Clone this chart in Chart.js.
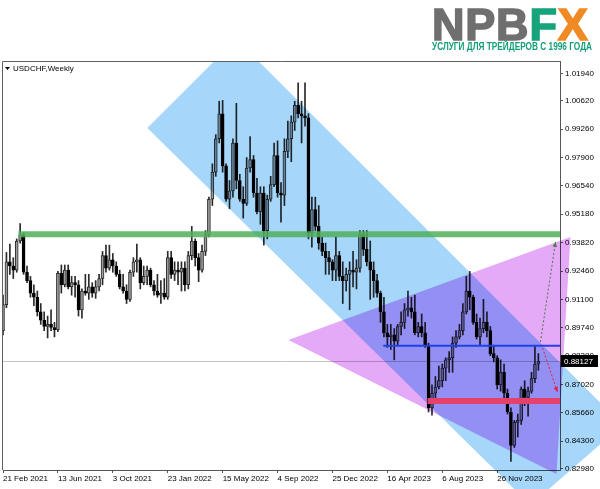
<!DOCTYPE html>
<html><head><meta charset="utf-8">
<script src="https://cdn.jsdelivr.net/npm/chart.js@4.4.1/dist/chart.umd.min.js"></script>
<style>
html,body{margin:0;padding:0;background:#fff;}
#wrap{position:relative;width:600px;height:489px;overflow:hidden;background:#fff;}
canvas{position:absolute;left:0;top:0;}
#logo{position:absolute;left:432px;top:2px;font-family:'Liberation Sans',Arial,sans-serif;font-weight:bold;font-size:45px;line-height:45px;letter-spacing:0.8px;white-space:nowrap;}
#logo .g{color:#6f6f6f;-webkit-text-stroke:1.6px #6f6f6f}#logo .f{color:#17a37c;-webkit-text-stroke:1.6px #17a37c}#logo .x{color:#f08a24;-webkit-text-stroke:1.6px #f08a24}
#sub{position:absolute;left:432px;top:42px;font-family:'Liberation Sans',Arial,sans-serif;font-weight:bold;font-size:10px;line-height:10px;color:#129e78;white-space:nowrap;transform-origin:0 0;}
</style></head><body>
<div id="wrap">
<canvas id="c" width="600" height="489"></canvas>
<div id="logo"><span class="g">NPB</span><span class="f">F</span><span class="x">X</span></div>
<div id="sub">УСЛУГИ ДЛЯ ТРЕЙДЕРОВ С 1996 ГОДА</div>
</div>
<script>
// ---- data ----
const symbolTitle = 'USDCHF,Weekly';
const xTickIndex = [0,16,32,48,64,80,96,112,128,144];
const xTickLabels = ['21 Feb 2021','13 Jun 2021','3 Oct 2021','23 Jan 2022','15 May 2022','4 Sep 2022','25 Dec 2022','16 Apr 2023','6 Aug 2023','26 Nov 2023'];
const yTickValues = [1.0194,1.0062,0.9926,0.9790,0.9654,0.9518,0.9382,0.9246,0.9110,0.8974,0.8838,0.8702,0.8566,0.8430,0.8298];
const currentPrice = 0.88127;

const opens = [
.8960,.9085,.9290,.9270,.9250,.9390,.9420,.9240,.9200,.9140,
.9120,.9050,.9010,.8980,.8990,.8975,.8965,.9235,.9180,.9250,
.9170,.9190,.9180,.9060,.9150,.9140,.9170,.9140,.9170,.9210,
.9320,.9260,.9300,.9270,.9230,.9170,.9150,.9110,.9240,.9290,
.9300,.9190,.9220,.9250,.9180,.9150,.9130,.9140,.9120,.9310,
.9230,.9250,.9240,.9260,.9180,.9320,.9390,.9310,.9250,.9340,
.9420,.9590,.9720,.9880,1.0000,.9750,.9590,.9630,.9860,.9680,
.9590,.9570,.9740,.9780,.9620,.9530,.9620,.9440,.9590,.9660,
.9800,.9620,.9610,.9820,.9880,.9960,1.0040,1.0000,.9990,.9980,
.9430,.9540,.9460,.9380,.9340,.9310,.9290,.9250,.9320,.9220,
.9200,.9230,.9250,.9240,.9260,.9420,.9350,.9290,.9250,.9200,
.9140,.9050,.8950,.8930,.8940,.8910,.8980,.9000,.9060,.9070,
.9050,.8950,.8980,.8950,.8890,.8590,.8660,.8690,.8720,.8780,
.8820,.8830,.8900,.8930,.8960,.9050,.9150,.9120,.9000,.8930,
.8970,.9000,.8960,.8850,.8830,.8700,.8760,.8660,.8570,.8410,
.8520,.8530,.8680,.8640,.8670,.8730,.8800];
const highs = [
.9130,.9335,.9375,.9310,.9400,.9473,.9430,.9270,.9220,.9180,
.9150,.9090,.9050,.9030,.9060,.9000,.9245,.9275,.9275,.9275,
.9220,.9220,.9200,.9160,.9230,.9230,.9190,.9200,.9230,.9340,
.9370,.9370,.9330,.9290,.9250,.9230,.9180,.9250,.9310,.9375,
.9310,.9270,.9270,.9260,.9200,.9230,.9200,.9210,.9340,.9340,
.9290,.9290,.9290,.9290,.9340,.9460,.9400,.9330,.9370,.9440,
.9600,.9760,.9900,1.0060,1.0064,.9760,.9680,.9880,1.0050,.9710,
.9650,.9790,.9890,.9800,.9690,.9650,.9650,.9610,.9700,.9860,
.9870,.9670,.9880,.9965,.9990,1.0060,1.0148,1.0060,1.0148,1.0000,
.9600,.9600,.9560,.9410,.9380,.9340,.9300,.9410,.9340,.9290,
.9260,.9290,.9340,.9300,.9440,.9440,.9440,.9390,.9290,.9230,
.9150,.9120,.8990,.8990,.8970,.8990,.9050,.9090,.9150,.9120,
.9130,.9000,.9040,.9000,.8900,.8700,.8740,.8790,.8800,.8830,
.8860,.8930,.8960,.8990,.9090,.9220,.9244,.9130,.9040,.9020,
.9110,.9050,.8980,.8890,.8840,.8820,.8800,.8680,.8590,.8530,
.8560,.8690,.8720,.8690,.8760,.8890,.8850];
const lows = [
.8940,.9070,.9230,.9210,.9240,.9380,.9230,.9190,.9120,.9080,
.9030,.8990,.8960,.8925,.8960,.8930,.8955,.9140,.9170,.9160,
.9130,.9120,.9030,.9020,.9130,.9110,.9120,.9115,.9150,.9180,
.9240,.9250,.9240,.9220,.9160,.9140,.9090,.9100,.9220,.9240,
.9160,.9180,.9180,.9170,.9130,.9120,.9090,.9110,.9110,.9210,
.9200,.9180,.9150,.9150,.9160,.9300,.9270,.9195,.9240,.9320,
.9410,.9560,.9700,.9860,.9720,.9580,.9545,.9600,.9640,.9580,
.9500,.9560,.9720,.9600,.9520,.9470,.9370,.9400,.9580,.9650,
.9600,.9480,.9560,.9790,.9770,.9920,.9980,.9860,.9940,.9400,
.9360,.9440,.9350,.9320,.9230,.9230,.9200,.9200,.9200,.9090,
.9150,.9060,.9170,.9160,.9240,.9320,.9270,.9110,.9120,.9120,
.9000,.8930,.8880,.8870,.8820,.8890,.8940,.8970,.9030,.9020,
.8940,.8930,.8930,.8880,.8570,.8555,.8610,.8680,.8690,.8720,
.8760,.8760,.8880,.8920,.8940,.9040,.9060,.8990,.8920,.8890,
.8950,.8930,.8840,.8810,.8680,.8670,.8620,.8560,.8333,.8400,
.8450,.8510,.8600,.8550,.8660,.8710,.8770];
const closes = [
.9085,.9290,.9270,.9250,.9390,.9420,.9240,.9200,.9140,.9120,
.9050,.9010,.8980,.8990,.8975,.8965,.9235,.9180,.9250,.9170,
.9190,.9180,.9060,.9150,.9140,.9170,.9140,.9170,.9210,.9320,
.9260,.9300,.9270,.9230,.9170,.9150,.9110,.9240,.9290,.9300,
.9190,.9220,.9250,.9180,.9150,.9130,.9140,.9120,.9310,.9230,
.9250,.9240,.9260,.9180,.9320,.9390,.9310,.9250,.9340,.9420,
.9590,.9720,.9880,1.0000,.9750,.9590,.9630,.9860,.9680,.9590,
.9570,.9740,.9780,.9620,.9530,.9620,.9440,.9590,.9660,.9800,
.9620,.9610,.9820,.9880,.9960,1.0040,1.0000,.9990,.9980,.9430,
.9540,.9460,.9380,.9340,.9310,.9290,.9250,.9320,.9220,.9200,
.9230,.9250,.9240,.9260,.9420,.9350,.9290,.9250,.9200,.9140,
.9050,.8950,.8930,.8940,.8910,.8980,.9000,.9060,.9070,.9050,
.8950,.8980,.8950,.8890,.8590,.8660,.8690,.8720,.8780,.8820,
.8830,.8900,.8930,.8960,.9050,.9150,.9120,.9000,.8930,.8970,
.9000,.8960,.8850,.8830,.8700,.8760,.8660,.8570,.8410,.8520,
.8530,.8680,.8640,.8670,.8730,.8800,.8813];

// analyst drawings, in (bar index, price)
const channelX = [42.06, 68.0, 180.5, 153.7];
const channelP = [0.99317, 1.03585, 0.85076, 0.8124];
const triangleX = [83.15, 165.35, 161.27];
const triangleP = [0.89152, 0.94091, 0.82727];
const greenLevel = {from: 4.5, price: 0.94225};
const blueLevel = {from: 110.8, price: 0.88879};
const redLevel = {from: 123.7, price: 0.86227};
const upArrowX = [156.6, 161.0], upArrowP = [0.89056, 0.93851];
const downArrowX = [157.2, 161.55], downArrowP = [0.88768, 0.86659];

// ---- build ----
const idx = opens.map((_, i) => i);
const bodies = idx.map(i => ({x: i, y: [Math.min(opens[i], closes[i]), Math.max(opens[i], closes[i])]}));
const wicks = idx.map(i => ({x: i, y: [lows[i], highs[i]]}));
const isBull = i => closes[i] >= opens[i];

function arrow(ctx, x0, y0, x1, y1, color) {
  ctx.save();
  ctx.strokeStyle = color; ctx.lineWidth = 1; ctx.setLineDash([2, 2]);
  ctx.beginPath(); ctx.moveTo(x0, y0); ctx.lineTo(x1, y1); ctx.stroke();
  ctx.setLineDash([]);
  const a = Math.atan2(y1 - y0, x1 - x0), L = 5, W = 2.2;
  ctx.fillStyle = color; ctx.beginPath(); ctx.moveTo(x1, y1);
  ctx.lineTo(x1 - L * Math.cos(a) + W * Math.sin(a), y1 - L * Math.sin(a) - W * Math.cos(a));
  ctx.lineTo(x1 - L * Math.cos(a) - W * Math.sin(a), y1 - L * Math.sin(a) + W * Math.cos(a));
  ctx.closePath(); ctx.fill();
  ctx.restore();
}

const overlay = {
  id: 'overlay',
  beforeDatasetsDraw(chart) {
    const {ctx, chartArea: a, scales: {y}} = chart;
    ctx.save();
    ctx.beginPath(); ctx.rect(a.left, a.top, a.right - a.left, a.bottom - a.top); ctx.clip();
    const py = Math.round(y.getPixelForValue(currentPrice)) + 0.5;
    ctx.strokeStyle = '#c4c4c4'; ctx.lineWidth = 1;
    ctx.beginPath(); ctx.moveTo(a.left, py); ctx.lineTo(a.right, py); ctx.stroke();
    ctx.restore();
  },
  afterDatasetsDraw(chart) {
    const {ctx, chartArea: a, scales: {x, y}} = chart;
    const W = chart.width, H = chart.height;
    ctx.save();
    ctx.beginPath(); ctx.rect(0, a.top, W, H - a.top); ctx.clip();
    ctx.globalCompositeOperation = 'multiply';
    const poly = (xs, ps, color) => {
      ctx.fillStyle = color; ctx.beginPath();
      xs.forEach((v, i) => { const px = x.getPixelForValue(v), py = y.getPixelForValue(ps[i]); i ? ctx.lineTo(px, py) : ctx.moveTo(px, py); });
      ctx.closePath(); ctx.fill();
    };
    poly(channelX, channelP, 'rgb(166,214,250)');
    poly(triangleX, triangleP, 'rgb(228,170,248)');
    ctx.restore();

    ctx.save();
    ctx.beginPath(); ctx.rect(a.left, a.top, a.right - a.left, a.bottom - a.top); ctx.clip();
    const band = (lv, color, w) => {
      const py = y.getPixelForValue(lv.price);
      ctx.strokeStyle = color; ctx.lineWidth = w;
      ctx.beginPath(); ctx.moveTo(x.getPixelForValue(lv.from), py); ctx.lineTo(a.right, py); ctx.stroke();
    };
    band(greenLevel, 'rgba(80,175,90,0.85)', 6);
    band(redLevel, '#e6416c', 6);
    band(blueLevel, '#2140e6', 2);
    ctx.restore();

    arrow(ctx, x.getPixelForValue(upArrowX[0]), y.getPixelForValue(upArrowP[0]), x.getPixelForValue(upArrowX[1]), y.getPixelForValue(upArrowP[1]), '#4a7a4a');
    arrow(ctx, x.getPixelForValue(downArrowX[0]), y.getPixelForValue(downArrowP[0]), x.getPixelForValue(downArrowX[1]), y.getPixelForValue(downArrowP[1]), '#e0203a');
  },
  afterDraw(chart) {
    const {ctx, chartArea: a, scales: {y}} = chart;
    ctx.save();
    ctx.strokeStyle = '#606060'; ctx.lineWidth = 1;
    ctx.beginPath(); ctx.moveTo(a.left - 0.5, a.bottom); ctx.lineTo(a.left - 0.5, a.top + 0.5); ctx.lineTo(a.right, a.top + 0.5); ctx.stroke();
    // current price label
    const py = Math.round(y.getPixelForValue(currentPrice));
    ctx.fillStyle = '#000'; ctx.fillRect(a.right + 1, py - 6, 37, 12);
    ctx.fillStyle = '#fff'; ctx.font = '8px "Liberation Sans"'; ctx.textBaseline = 'middle'; ctx.textAlign = 'left';
    ctx.fillText(currentPrice.toFixed(5), a.right + 4, py + 0.5);
    // title
    ctx.fillStyle = '#000';
    ctx.beginPath(); ctx.moveTo(a.left + 2, a.top + 6); ctx.lineTo(a.left + 7, a.top + 6); ctx.lineTo(a.left + 4.5, a.top + 9); ctx.closePath(); ctx.fill();
    ctx.fillText(symbolTitle, a.left + 10, a.top + 8);
    ctx.restore();
  }
};

Chart.defaults.font.family = '"Liberation Sans", Arial, sans-serif';
Chart.defaults.font.size = 8;
Chart.defaults.color = '#000';

new Chart(document.getElementById('c'), {
  type: 'bar',
  data: {
    datasets: [
      {
        data: bodies, barThickness: 3, borderWidth: 1, borderSkipped: false, grouped: false,
        backgroundColor: c => isBull(c.dataIndex) ? '#9c9c9c' : '#000',
        borderColor: c => isBull(c.dataIndex) ? '#2a2a2a' : '#000'
      },
      { data: wicks, barThickness: 1, borderWidth: 0, grouped: false, backgroundColor: '#2a2a2a' }
    ]
  },
  options: {
    responsive: false, animation: false,
    layout: {padding: {left: 3, top: 61, right: 0, bottom: 0}},
    plugins: {legend: {display: false}, tooltip: {enabled: false}},
    scales: {
      x: {
        type: 'linear', min: 0, max: 162.3, offset: false,
        grid: {offset: false, drawOnChartArea: false, drawTicks: true, tickLength: 3, color: '#555'},
        border: {display: true, color: '#555'},
        afterBuildTicks: s => { s.ticks = xTickIndex.map(v => ({value: v})); },
        afterFit: s => { s.height = 19; },
        ticks: {autoSkip: false, maxRotation: 0, minRotation: 0, align: 'start', padding: 1,
          callback: v => { const k = xTickIndex.indexOf(v); return k >= 0 ? xTickLabels[k] : ''; }}
      },
      y: {
        type: 'linear', position: 'right', min: 0.82918, max: 1.0253, beginAtZero: false,
        grid: {drawOnChartArea: false, drawTicks: true, tickLength: 3, color: '#555'},
        border: {display: true, color: '#555'},
        afterBuildTicks: s => { s.ticks = yTickValues.map(v => ({value: v})); },
        afterFit: s => { s.width = 40; },
        ticks: {padding: 2, callback: v => Number(v).toFixed(5)}
      }
    }
  },
  plugins: [overlay]
});

// fit subtitle width
const sub = document.getElementById('sub');
const w = sub.getBoundingClientRect().width;
sub.style.transform = 'scaleX(' + (160 / w) + ')';
</script>
</body></html>
